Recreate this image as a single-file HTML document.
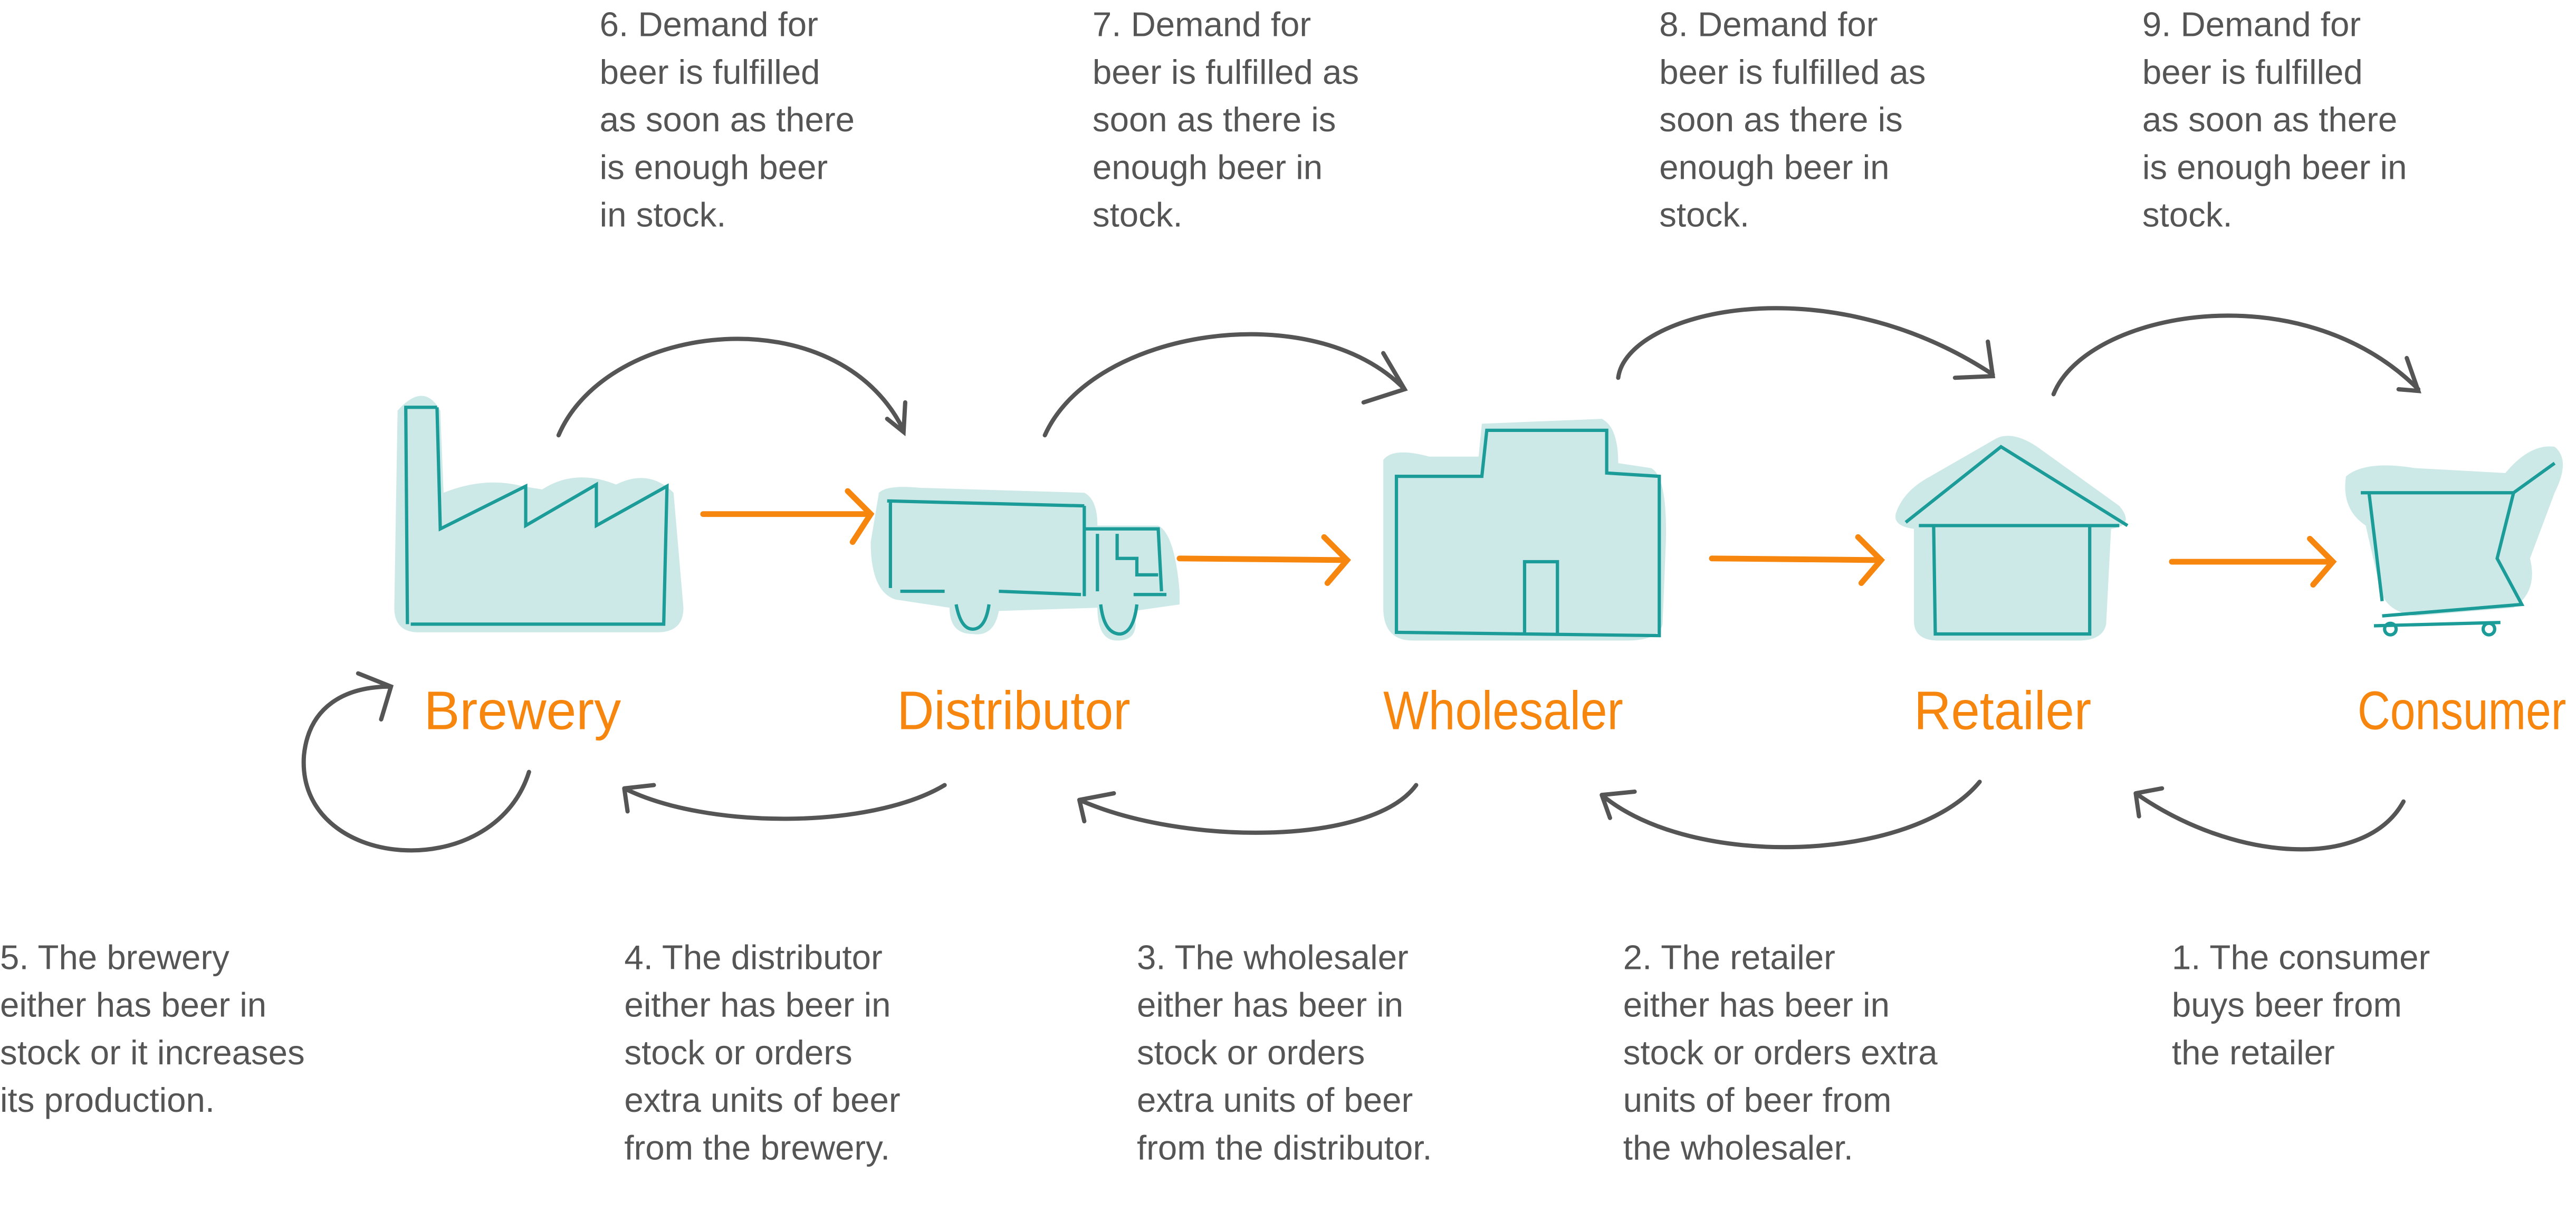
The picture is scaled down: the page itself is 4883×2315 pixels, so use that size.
<!DOCTYPE html>
<html><head><meta charset="utf-8"><style>
html,body{margin:0;padding:0;background:#fff;}
svg{display:block;}
.t{font-family:"Liberation Sans",sans-serif;font-size:21px;fill:#555;}
.l{font-family:"Liberation Sans",sans-serif;font-size:33px;fill:#f7860f;}
.a{fill:none;stroke:#555;stroke-width:2.6;stroke-linecap:round;}
.o{fill:none;stroke:#f7860f;stroke-width:3.5;stroke-linecap:round;}
.bl{fill:#cce9e8;}
.ln{fill:none;stroke:#1c9c98;stroke-width:2;}
</style></head><body>
<svg width="4883" height="2315" viewBox="0 0 1568 743.4" preserveAspectRatio="none" xmlns="http://www.w3.org/2000/svg">
<g class="t">
<text x="365" y="22">6. Demand for</text><text x="365" y="51">beer is fulfilled</text><text x="365" y="80">as soon as there</text><text x="365" y="109">is enough beer</text><text x="365" y="138">in stock.</text>
<text x="665" y="22">7. Demand for</text><text x="665" y="51">beer is fulfilled as</text><text x="665" y="80">soon as there is</text><text x="665" y="109">enough beer in</text><text x="665" y="138">stock.</text>
<text x="1010" y="22">8. Demand for</text><text x="1010" y="51">beer is fulfilled as</text><text x="1010" y="80">soon as there is</text><text x="1010" y="109">enough beer in</text><text x="1010" y="138">stock.</text>
<text x="1304" y="22">9. Demand for</text><text x="1304" y="51">beer is fulfilled</text><text x="1304" y="80">as soon as there</text><text x="1304" y="109">is enough beer in</text><text x="1304" y="138">stock.</text>
<text x="0" y="590">5. The brewery</text><text x="0" y="619">either has beer in</text><text x="0" y="648">stock or it increases</text><text x="0" y="677">its production.</text>
<text x="380" y="590">4. The  distributor</text><text x="380" y="619">either has beer in</text><text x="380" y="648">stock or orders</text><text x="380" y="677">extra units of beer</text><text x="380" y="706">from the brewery.</text>
<text x="692" y="590">3. The wholesaler</text><text x="692" y="619">either has beer in</text><text x="692" y="648">stock or orders</text><text x="692" y="677">extra units of beer</text><text x="692" y="706">from the distributor.</text>
<text x="988" y="590">2. The retailer</text><text x="988" y="619">either has beer in</text><text x="988" y="648">stock or orders extra</text><text x="988" y="677">units of beer from</text><text x="988" y="706">the wholesaler.</text>
<text x="1322" y="590">1. The consumer</text><text x="1322" y="619">buys beer from</text><text x="1322" y="648">the retailer</text>
</g>
<g class="l">
<text x="258" y="444" textLength="120" lengthAdjust="spacingAndGlyphs">Brewery</text>
<text x="546" y="444" textLength="142" lengthAdjust="spacingAndGlyphs">Distributor</text>
<text x="842" y="444" textLength="146" lengthAdjust="spacingAndGlyphs">Wholesaler</text>
<text x="1165" y="444" textLength="108" lengthAdjust="spacingAndGlyphs">Retailer</text>
<text x="1435" y="444" textLength="127" lengthAdjust="spacingAndGlyphs">Consumer</text>
</g>
<path class="bl" d="M242,250 Q258,232 268,250 L270,300 Q295,290 318,296 L330,298 Q350,285 375,295 Q395,285 410,300 L416,370 Q416,385 400,385 L255,385 Q240,385 240,370 Z"/>
<path class="ln" d="M246,248 L266,248 M247,248 L248,380 M266,248 L268,322 L320,296 L320,320 L363,295 L363,320 L406,296 L404,380 L250,380"/>
<path class="bl" d="M535,300 Q540,295 560,297 L660,300 Q668,304 668,320 L705,320 Q715,325 718,360 L718,368 L690,372 Q695,390 680,390 Q668,390 668,370 L608,372 Q605,388 592,386 Q578,386 578,370 L545,365 Q530,360 530,330 Z"/>
<path class="ln" d="M540,305 L660,308 M542,305 L542,358 M660,308 L660,363 M660,322 L705,322 L707,360 M668,325 L668,360 M680,325 L680,340 L692,340 L692,350 L705,350 M548,360 L575,360 M608,360 L658,362 M690,362 L710,362 M582,368 Q585,384 593,383 Q600,382 602,368 M670,368 Q672,386 682,386 Q690,385 692,368"/>
<path class="bl" d="M842,280 Q848,272 870,278 L900,278 L902,258 L975,255 Q985,260 985,282 L1005,285 Q1015,290 1014,330 L1012,380 Q1010,390 990,390 L860,390 Q842,390 842,370 Z"/>
<path class="ln" d="M850,290 L850,385 L1010,387 L1010,290 L978,288 L978,262 L905,262 L902,290 Z M928,387 L928,342 L948,342 L948,387"/>
<path class="bl" d="M1155,310 Q1160,298 1175,290 L1215,267 Q1225,262 1240,272 L1290,308 Q1300,320 1285,322 L1282,380 Q1280,390 1265,390 L1180,390 Q1165,390 1165,378 L1165,322 Q1150,320 1155,310 Z"/>
<path class="ln" d="M1160,318 L1218,272 L1295,320 M1168,320 L1290,320 M1177,320 L1178,386 L1272,386 L1272,320"/>
<path class="bl" d="M1428,290 Q1440,280 1470,285 L1525,288 Q1540,270 1555,272 Q1565,280 1555,300 L1540,340 Q1545,360 1530,370 L1470,375 Q1450,372 1448,355 L1440,320 Q1425,310 1428,290 Z"/>
<path class="ln" d="M1437,300 L1530,300 M1530,300 L1555,282 M1530,300 L1520,340 L1535,368 L1450,375 M1442,300 L1450,366"/>
<circle cx="1455" cy="383" r="3.5" fill="none" stroke="#1c9c98" stroke-width="2"/><circle cx="1515" cy="383" r="3.5" fill="none" stroke="#1c9c98" stroke-width="2"/>
<path class="ln" d="M1445,381 L1522,379"/>
<path class="o" d="M428,313 L528,313 M516,299 L530,313 L519,330"/>
<path class="o" d="M718,340 L818,341 M806,327 L820,341 L808,355"/>
<path class="o" d="M1042,340 L1143,341 M1131,327 L1145,341 L1133,355"/>
<path class="o" d="M1322,342 L1418,342 M1406,328 L1420,342 L1408,356"/>
<path class="a" d="M340,265 C370,195 510,180 550,262 M540,255 L550,263 L551,245"/>
<path class="a" d="M636,265 C665,200 800,180 855,237 M830,245 L855,237 L842,215"/>
<path class="a" d="M985,230 C990,190 1110,160 1213,228 M1190,230 L1213,229 L1210,208"/>
<path class="a" d="M1250,240 C1270,190 1400,165 1472,237 M1460,237 L1472,238 L1465,218"/>
<path class="a" d="M575,478 C530,505 430,505 380,480 M380,480 L398,478 M380,480 L382,494"/>
<path class="a" d="M862,478 C835,515 720,515 657,487 M657,487 L678,483 M657,487 L660,500"/>
<path class="a" d="M1205,476 C1165,525 1030,530 975,484 M975,484 L995,482 M975,484 L980,498"/>
<path class="a" d="M1463,488 C1440,530 1360,525 1300,483 M1300,483 L1316,480 M1300,483 L1302,497"/>
<path class="a" d="M322,470 C300,540 180,530 185,460 C188,430 210,418 238,418 M218,410 L238,418 L232,438"/>
</svg>
</body></html>
